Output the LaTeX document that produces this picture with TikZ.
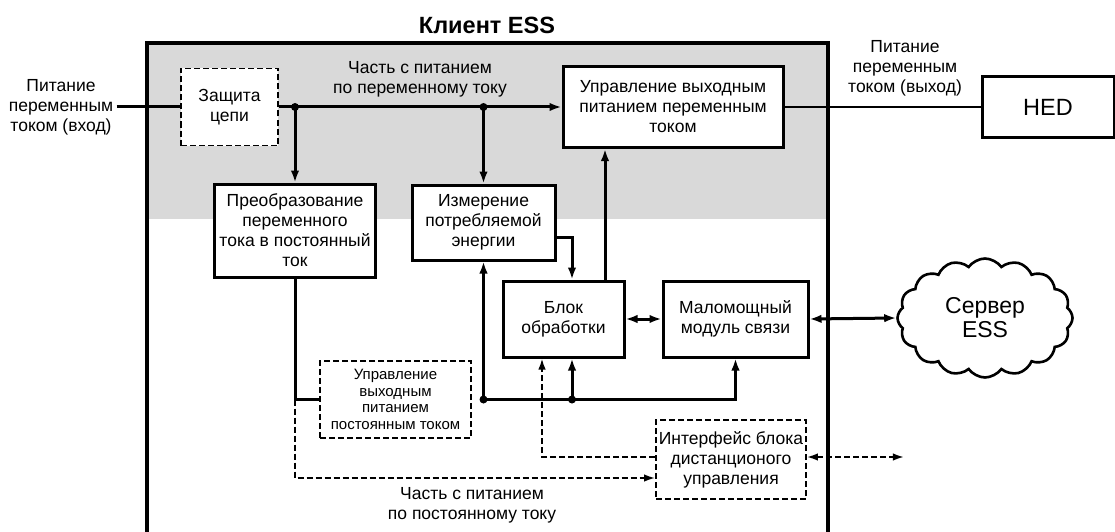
\documentclass[tikz,border=0pt]{standalone}
\usepackage{fontspec}
\setmainfont{Liberation Sans}
\usetikzlibrary{arrows.meta,shapes.symbols}
\begin{document}
\begin{tikzpicture}[x=1pt,y=-1pt,
  txt/.style={align=center, font=\fontsize{17.5}{20}\selectfont},
  box/.style={txt, draw, line width=3pt, fill=white, inner sep=1pt},
  dbox/.style={txt, draw, line width=1.8pt, dash pattern=on 6pt off 3pt, fill=white, inner sep=1pt},
  conn/.style={line width=3pt},
  thinconn/.style={line width=2pt},
  dline/.style={line width=1.8pt, dash pattern=on 6pt off 3pt},
  arr/.style={-{Latex[length=12pt,width=8.5pt]}},
  darr/.style={{Latex[length=12pt,width=8.5pt]}-{Latex[length=12pt,width=8.5pt]}},
  sarr/.style={-{Latex[length=11pt,width=7.5pt]}},
  sdarr/.style={{Latex[length=11pt,width=7.5pt]}-{Latex[length=11pt,width=7.5pt]}},
  dot/.style={circle, fill=black, inner sep=0pt, minimum size=8pt}
]
\useasboundingbox (0,0) rectangle (1115,532);
\fill[black!15] (147,43) rectangle (828,219);
\draw[line width=3.2pt] (147,534) -- (147,43) -- (828,43) -- (828,534);
\node[font=\bfseries\fontsize{23.5}{27}\selectfont] (ttl) at (487,25) {Клиент ESS};

\node[dbox, minimum width=97pt, minimum height=77pt] (zash) at (229.5,107) {Защита\\цепи};
\node[box, minimum width=220pt, minimum height=81pt] (upr) at (673,107) {Управление выходным\\питанием переменным\\током};
\node[box, minimum width=161pt, minimum height=93pt] (preob) at (295,230.5) {Преобразование\\переменного\\тока в постоянный\\ток};
\node[box, minimum width=143pt, minimum height=75pt] (izm) at (483.5,222.5) {Измерение\\потребляемой\\энергии};
\node[box, minimum width=121pt, minimum height=76pt] (blok) at (563.5,319) {Блок\\обработки};
\node[box, minimum width=145pt, minimum height=76pt] (malo) at (735.5,319) {Маломощный\\модуль связи};
\node[dbox, minimum width=151pt, minimum height=77pt, font=\fontsize{15}{16.7}\selectfont] (dc) at (395.5,399.5) {Управление\\выходным\\питанием\\постоянным током};
\node[dbox, minimum width=150pt, minimum height=79pt] (intf) at (731,459.5) {Интерфейс блока\\дистанционого\\управления};
\node[box, minimum width=132pt, minimum height=61pt, font=\fontsize{23.5}{27}\selectfont] (hed) at (1048,107) {HED};
\node[cloud, draw, line width=2.6pt, fill=white, cloud puffs=16, cloud puff arc=110, aspect=1.5, minimum width=175pt, minimum height=119pt, inner sep=0pt, align=center, font=\fontsize{23}{24}\selectfont] (srv) at (985,318) {Сервер\\ESS};

\node[txt] (inl) at (61,107) {Питание\\переменным\\током (вход)};
\node[txt] (acl) at (420,79) {Часть с питанием\\по переменному току};
\node[txt] (outl) at (905,68) {Питание\\переменным\\током (выход)};
\node[txt] (dcl) at (472,505) {Часть с питанием\\по постоянному току};

\coordinate (d1) at (preob.north |- zash.east);
\coordinate (d2) at (izm.north |- zash.east);
\draw[conn] (inl.east) -- (zash.west);
\draw[conn, arr] (zash.east) -- (upr.west);
\draw[conn, arr] (d1) -- (preob.north);
\draw[conn, arr] (d2) -- (izm.north);
\node[dot] at (d1) {};
\node[dot] at (d2) {};
\draw[thinconn] (upr.east) -- (hed.west);
\draw[conn, arr] ([yshift=-14.5pt]izm.east) -| ([xshift=8.5pt]blok.north);
\draw[conn, arr] ([xshift=41.5pt]blok.north) -- ([xshift=41.5pt]blok.north |- upr.south);
\draw[conn, darr] (blok.east) -- (malo.west);
\draw[conn, darr] (malo.east) -- (srv.west);

\draw[conn] (preob.south) |- (dc.west);
\coordinate (bl) at (izm.south |- dc.west);
\coordinate (bm) at ([xshift=8.5pt]blok.south |- dc.west);
\draw[conn, arr] (bl) -- (izm.south);
\draw[conn, arr] (bl) -| (malo.south);
\draw[conn, arr] (bm) -- ([xshift=8.5pt]blok.south);
\node[dot] at (bl) {};
\node[dot] at (bm) {};

\draw[dline, sarr] (preob.south |- dc.west) |- ([yshift=-18.5pt]intf.west);
\draw[dline, sarr] ([yshift=2.5pt]intf.west) -| ([xshift=-21.5pt]blok.south);
\coordinate (rc) at ([xshift=97pt,yshift=2.5pt]intf.east);
\draw[dline, sdarr] ([yshift=2.5pt]intf.east) -- (rc);
\end{tikzpicture}
\end{document}
